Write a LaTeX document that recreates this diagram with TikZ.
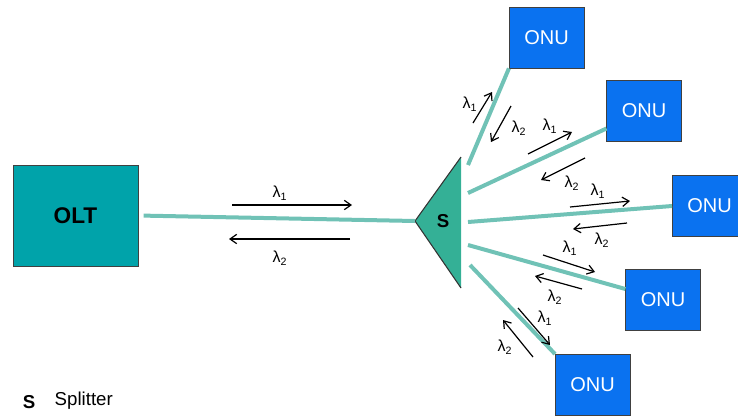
\documentclass[tikz,border=0pt]{standalone}
\usepackage{fontspec}
\setmainfont{Liberation Sans}
\usetikzlibrary{arrows.meta}
\definecolor{oltcol}{RGB}{0,163,170}
\definecolor{splitcol}{RGB}{52,176,150}
\definecolor{onucol}{RGB}{10,114,240}
\definecolor{fibercol}{RGB}{112,194,182}
\newcommand{\lam}[1]{λ\textsubscript{#1}}

\begin{document}
\begin{tikzpicture}[x=0.75pt,y=-0.75pt,every node/.style={font=\small},
  onu/.style={draw=black!75,fill=onucol,text=white,minimum width=56pt,minimum height=46pt,
    inner sep=0pt,font=\fontsize{15}{18}\selectfont},
  fiber/.style={draw=fibercol,line width=3pt},
  wave/.style={-{Straight Barb[length=5pt,width=7pt]},line width=0.9pt},
  lab/.style={font=\fontsize{12}{14}\selectfont,inner sep=0pt}]
  \useasboundingbox (0,0) rectangle (738,415);

  % OLT and splitter
  \node[draw=black!75,fill=oltcol,minimum width=93.75pt,minimum height=75.75pt,
    font=\fontsize{17}{20}\selectfont\bfseries] (olt) at (75.5,215.5) {OLT};
  \coordinate (spTip) at (415,221);
  \coordinate (spTop) at (461,157);
  \coordinate (spBot) at (461,288);
  \fill[splitcol] (spTip) -- (spTop) -- (spBot) -- cycle;
  \draw[black!80,line width=0.8pt] (spTop) -- (spTip) -- (spBot);
  \node[font=\fontsize{14}{16}\selectfont\bfseries] (s) at (443,221) {S};

  % ONUs
  \node[onu] (onuA) at (546.5,37.5) {ONU};
  \node[onu] (onuB) at (644,111) {ONU};
  \node[onu,anchor=west] (onuC) at (672,206) {ONU};
  \node[onu] (onuD) at (663,299.5) {ONU};
  \node[onu,anchor=north west] (onuE) at (555,354) {ONU};

  % fibers
  \draw[fiber,shorten <=4pt] (olt.east) -- (spTip);
  \coordinate (fA) at (468,165);
  \coordinate (fB) at (468,193);
  \coordinate (fC) at (468,222);
  \coordinate (fD) at (468,245);
  \coordinate (fE) at (470,265);
  \draw[fiber] (fA) -- (onuA.south west);
  \draw[fiber] (fB) -- (onuB);
  \draw[fiber] (fC) -- (onuC.west);
  \draw[fiber] (fD) -- (onuD);
  \draw[fiber] (fE) -- (onuE.north west);

  % wavelengths: start/end of lambda1 arrow, label; start/end of lambda2 arrow, label
  \foreach \na/\ax/\ay/\bx/\by/\lx/\ly/\cx/\cy/\dx/\dy/\mx/\my in {
      o/232/205/352/205/280/193/350/239/229/239/280/258,
      a/473/123/492/92/470/104/511/106/491/142/519/128,
      b/528/154/572/132/550/126/585/158/541/180/572/183,
      c/570/207/630/201/598/191/627/223/573/229/602/240,
      d/543/255/595/272/570/248/582/289/535/276/555/297,
      e/518/308/550/345/545/318/533/357/503/320/505/347} {
    \coordinate (u\na) at (\ax,\ay);
    \coordinate (v\na) at (\bx,\by);
    \coordinate (w\na) at (\cx,\cy);
    \coordinate (z\na) at (\dx,\dy);
    \draw[wave] (u\na) -- (v\na);
    \draw[wave] (w\na) -- (z\na);
    \node[lab] (l1\na) at (\lx,\ly) {\lam{1}};
    \node[lab] (l2\na) at (\mx,\my) {\lam{2}};
  }

  % legend
  \node[font=\fontsize{14}{16}\selectfont\bfseries] (keyS) at (29,402) {S};
  \node[font=\fontsize{14}{16}\selectfont,anchor=west] (keyT) at (50,401) {Splitter};
\end{tikzpicture}
\end{document}
